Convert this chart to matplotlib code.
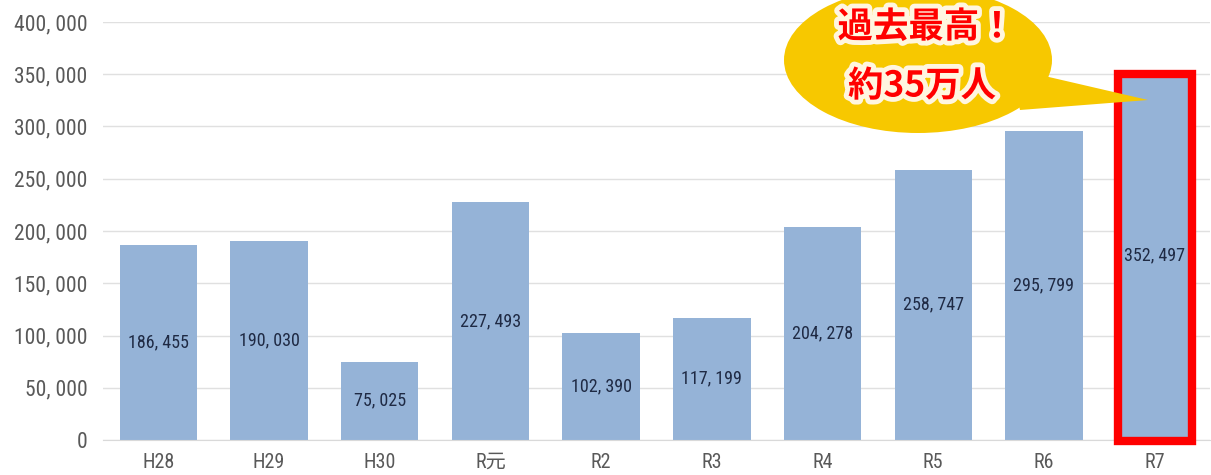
import matplotlib
matplotlib.use("Agg")
import matplotlib.pyplot as plt
from matplotlib.patches import Ellipse, Polygon, Rectangle
import matplotlib.patheffects as pe
from matplotlib import font_manager

categories = ["H28", "H29", "H30", "R元", "R2", "R3", "R4", "R5", "R6", "R7"]
values = [186455, 190030, 75025, 227493, 102390, 117199, 204278, 258747, 295799, 352497]
yticks = [0, 50000, 100000, 150000, 200000, 250000, 300000, 350000, 400000]

plt.rcParams['font.family'] = ['Noto Sans CJK JP', 'DejaVu Sans']
names = {f.name for f in font_manager.fontManager.ttflist}
cand = ['Roboto Condensed', 'Fira Sans Condensed', 'IBM Plex Sans Condensed', 'Archivo Narrow',
        'PT Sans Narrow', 'Encode Sans Condensed', 'Open Sans Condensed', 'Pragati Narrow']
cond = next((c for c in cand if c in names), None)
narrow = [cond, 'Noto Sans CJK JP', 'DejaVu Sans'] if cond else ['Noto Sans CJK JP', 'DejaVu Sans']
scale = 1.0 if cond else 0.85

W, H = 1211, 475
fig = plt.figure(figsize=(W / 100, H / 100), dpi=100)
ax = fig.add_axes([103 / W, 1 - 440 / H, (1210 - 103) / W, (440 - 22) / H])

x = list(range(len(categories)))
bars = ax.bar(x, values, width=0.70, color="#95B3D7", zorder=2)
ax.set_xlim(-0.5, len(categories) - 0.5)
ax.set_ylim(0, 400000)
ax.set_yticks(yticks)
ax.set_yticklabels([f"{v:,}".replace(",", ", ") for v in yticks], color="#595959",
                   fontsize=15.5 * scale, family=narrow)
ax.set_xticks(x)
ax.set_xticklabels(categories, color="#595959", fontsize=14.5 * scale, family=narrow)
ax.tick_params(axis='both', length=0)
ax.tick_params(axis='x', pad=9)
ax.tick_params(axis='y', pad=11)
ax.grid(axis='y', color="#E0E0E0", linewidth=1, zorder=0)
for s in ["top", "right", "left"]:
    ax.spines[s].set_visible(False)
ax.spines["bottom"].set_color("#D9D9D9")

for xi, v in zip(x, values):
    ax.text(xi, v / 2, f"{v:,}".replace(",", ", "), ha='center', va='center',
            fontsize=13 * scale, color="#1F2A44", family=narrow, zorder=3)

# highlight box around last bar
last = len(categories) - 1
ax.add_patch(Rectangle((last - 0.335, -800), 0.67, values[last] - 1200, fill=False,
                       edgecolor="#FF0000", linewidth=6, joinstyle='miter', zorder=4, clip_on=False))

# speech bubble
gold = "#F7C800"
ell = Ellipse((918 / W, 1 - 60 / H), 268 / W, 146 / H, transform=fig.transFigure,
              facecolor=gold, edgecolor='none', zorder=5)
fig.patches.append(ell)
tail = Polygon([(1010 / W, 1 - 68 / H), (1148 / W, 1 - 100 / H), (1020 / W, 1 - 110 / H)],
               closed=True, transform=fig.transFigure, facecolor=gold, edgecolor='none', zorder=5)
fig.patches.append(tail)

glow = [pe.withStroke(linewidth=7, foreground="#FFF6E0")]
fig.text(926 / W, 1 - 27 / H, "過去最高！", ha='center', va='center', fontsize=25.5,
         fontweight='bold', color="#FF0000", path_effects=glow, zorder=6)
fig.text(922 / W, 1 - 86 / H, "約35万人", ha='center', va='center', fontsize=25.5,
         fontweight='bold', color="#FF0000", path_effects=glow, zorder=6)

fig.savefig("out.png", dpi=100, facecolor="white")
